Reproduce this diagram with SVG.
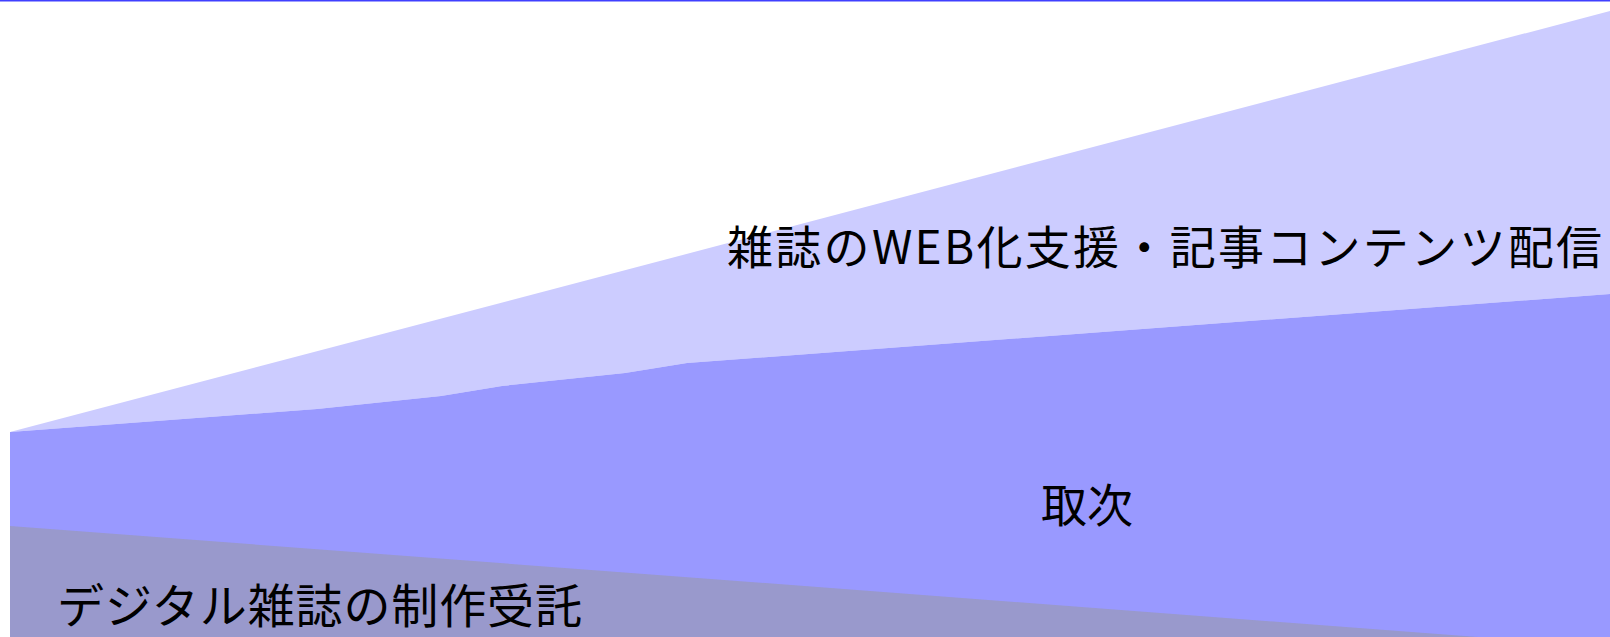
<svg xmlns="http://www.w3.org/2000/svg" width="1610" height="637" viewBox="0 0 1610 637">
<style>
.lbl{font-family:"Noto Sans CJK JP","Noto Sans",sans-serif;font-size:46px;fill:#000}
</style>
<rect x="0" y="0" width="1610" height="637" fill="#ffffff"/>
<g id="area-web">
<polygon points="10,432 1610,11 1610,294 687,363 625,373 502,386 441,396 317,409" fill="#ccccff"/>
</g>
<g id="area-toritsugi">
<polygon points="10,432 317,409 441,396 502,386 625,373 687,363 1610,294 1610,637 10,637" fill="#9999ff"/>
</g>
<g id="area-digital">
<polygon points="10,526 1610,647 10,647" fill="#9999cc"/>
</g>
<rect id="top-line" x="0" y="0" width="1610" height="1.5" fill="#4040ff"/>
<g id="labels">
<text class="lbl" x="727" y="264" textLength="875" lengthAdjust="spacing">雑誌のWEB化支援・記事コンテンツ配信</text>
<text class="lbl" x="1087" y="522" text-anchor="middle">取次</text>
<text class="lbl" x="57" y="623" style="font-size:47px" textLength="525" lengthAdjust="spacing">デジタル雑誌の制作受託</text>
</g>
</svg>
